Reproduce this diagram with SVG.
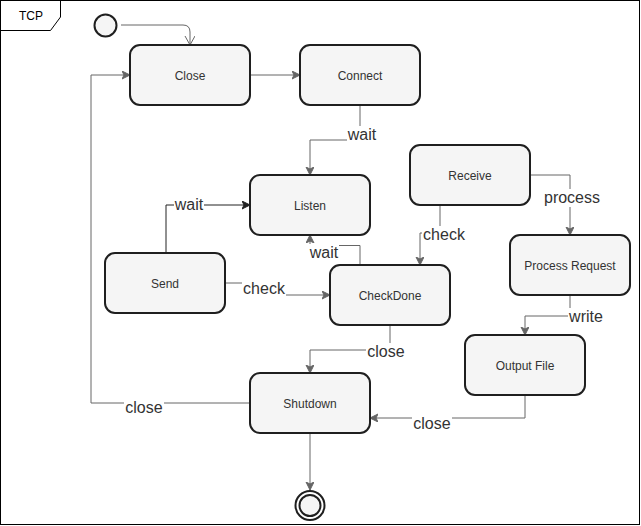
<svg xmlns="http://www.w3.org/2000/svg" width="641" height="526" viewBox="0 0 641 526">
<defs>
<style>
.node rect{fill:#f5f5f5;stroke:#1f1f1f;stroke-width:2}
.nt{font-family:"Liberation Sans",Arial,sans-serif;font-size:12px;fill:#333;text-anchor:middle}
.edge{fill:none;stroke:#666;stroke-width:1}
.lbl{font-family:"Liberation Sans",Arial,sans-serif;font-size:16px;fill:#333;text-anchor:middle}
.bg{fill:#fff}
</style>
<marker id="arr" markerWidth="10" markerHeight="10" refX="8" refY="4" orient="auto" markerUnits="userSpaceOnUse">
<path d="M0,0 L8,4 L0,8 L2,4 Z" fill="#666" stroke="#666" stroke-width="1"/>
</marker>
<marker id="arrd" markerWidth="10" markerHeight="10" refX="8" refY="4" orient="auto" markerUnits="userSpaceOnUse">
<path d="M0,0 L8,4 L0,8 L2,4 Z" fill="#222" stroke="#222" stroke-width="1"/>
</marker>
<marker id="open" markerWidth="12" markerHeight="12" refX="9" refY="5" orient="auto" markerUnits="userSpaceOnUse">
<path d="M0,0 L9,5 L0,10" fill="none" stroke="#666" stroke-width="1"/>
</marker>
</defs>
<rect x="0.5" y="0.5" width="639" height="524" fill="#fff" stroke="#000" stroke-width="1"/>
<g id="frame-tab">
<path d="M0.5,30.5 L50.5,30.5 L60.5,17 L60.5,0.5" fill="none" stroke="#000" stroke-width="1"/>
<text x="31" y="20" class="nt" style="fill:#000">TCP</text>
</g>
<g id="connectors">
<path class="edge" d="M121,25 L183,25 Q190,25 190,32 L190,45" marker-end="url(#open)"/>
<path class="edge" d="M250,75 L300,75" marker-end="url(#arr)"/>
<path class="edge" d="M360,105 L360,140 L310,140 L310,175" marker-end="url(#arr)"/>
<path class="edge" style="stroke:#222" d="M166,253 L166,205 L250,205" marker-end="url(#arrd)"/>
<path class="edge" d="M225,283 L264,283 L264,295 L330,295" marker-end="url(#arr)"/>
<path class="edge" d="M360,265 L360,245.5 L310,245.5 L310,235" marker-end="url(#arr)"/>
<path class="edge" d="M440,205 L440,233 L420,233 L420,265" marker-end="url(#arr)"/>
<path class="edge" d="M530,175 L570,175 L570,235" marker-end="url(#arr)"/>
<path class="edge" d="M570,295 L570,316 L525,316 L525,335" marker-end="url(#arr)"/>
<path class="edge" d="M525,395 L525,418 L370,418" marker-end="url(#arr)"/>
<path class="edge" d="M390,325 L390,350 L310,350 L310,373" marker-end="url(#arr)"/>
<path class="edge" d="M250,403 L91,403 L91,75 L130,75" marker-end="url(#arr)"/>
<path class="edge" d="M310,433 L310,490" marker-end="url(#arr)"/>
<rect class="bg" x="347" y="126" width="30" height="18"/><text class="lbl" x="362" y="140">wait</text>
<rect class="bg" x="174" y="196" width="30" height="18"/><text class="lbl" x="189" y="210">wait</text>
<rect class="bg" x="242" y="280" width="44" height="18"/><text class="lbl" x="264" y="294">check</text>
<rect class="bg" x="309" y="244" width="30" height="18"/><text class="lbl" x="324" y="258">wait</text>
<rect class="bg" x="422" y="226" width="44" height="18"/><text class="lbl" x="444" y="240">check</text>
<rect class="bg" x="543" y="189" width="58" height="18"/><text class="lbl" x="572" y="203">process</text>
<rect class="bg" x="568" y="308" width="36" height="18"/><text class="lbl" x="586" y="322">write</text>
<rect class="bg" x="412" y="415" width="40" height="18"/><text class="lbl" x="432" y="429">close</text>
<rect class="bg" x="366" y="343" width="40" height="18"/><text class="lbl" x="386" y="357">close</text>
<rect class="bg" x="124" y="399" width="40" height="18"/><text class="lbl" x="144" y="413">close</text>
</g>
<g id="start"><circle cx="105.5" cy="25.5" r="11" fill="#f5f5f5" stroke="#1f1f1f" stroke-width="2"/></g>
<g id="close" class="node"><rect x="130" y="45" width="120" height="60" rx="10"/><text class="nt" x="190" y="79.5">Close</text></g>
<g id="connect" class="node"><rect x="300" y="45" width="120" height="60" rx="10"/><text class="nt" x="360" y="79.5">Connect</text></g>
<g id="listen" class="node"><rect x="250" y="175" width="120" height="60" rx="10"/><text class="nt" x="310" y="209.5">Listen</text></g>
<g id="receive" class="node"><rect x="410" y="145" width="120" height="60" rx="10"/><text class="nt" x="470" y="179.5">Receive</text></g>
<g id="send" class="node"><rect x="105" y="253" width="120" height="60" rx="10"/><text class="nt" x="165" y="287.5">Send</text></g>
<g id="checkdone" class="node"><rect x="330" y="265" width="120" height="60" rx="10"/><text class="nt" x="390" y="299.5">CheckDone</text></g>
<g id="processrequest" class="node"><rect x="510" y="235" width="120" height="60" rx="10"/><text class="nt" x="570" y="269.5">Process Request</text></g>
<g id="outputfile" class="node"><rect x="465" y="335" width="120" height="60" rx="10"/><text class="nt" x="525" y="369.5">Output File</text></g>
<g id="shutdown" class="node"><rect x="250" y="373" width="120" height="60" rx="10"/><text class="nt" x="310" y="407.5">Shutdown</text></g>
<g id="end"><circle cx="310" cy="505.5" r="14.5" fill="#fff" stroke="#1f1f1f" stroke-width="2"/><circle cx="310" cy="505.5" r="10.5" fill="#f5f5f5" stroke="#1f1f1f" stroke-width="2"/></g>
</svg>
